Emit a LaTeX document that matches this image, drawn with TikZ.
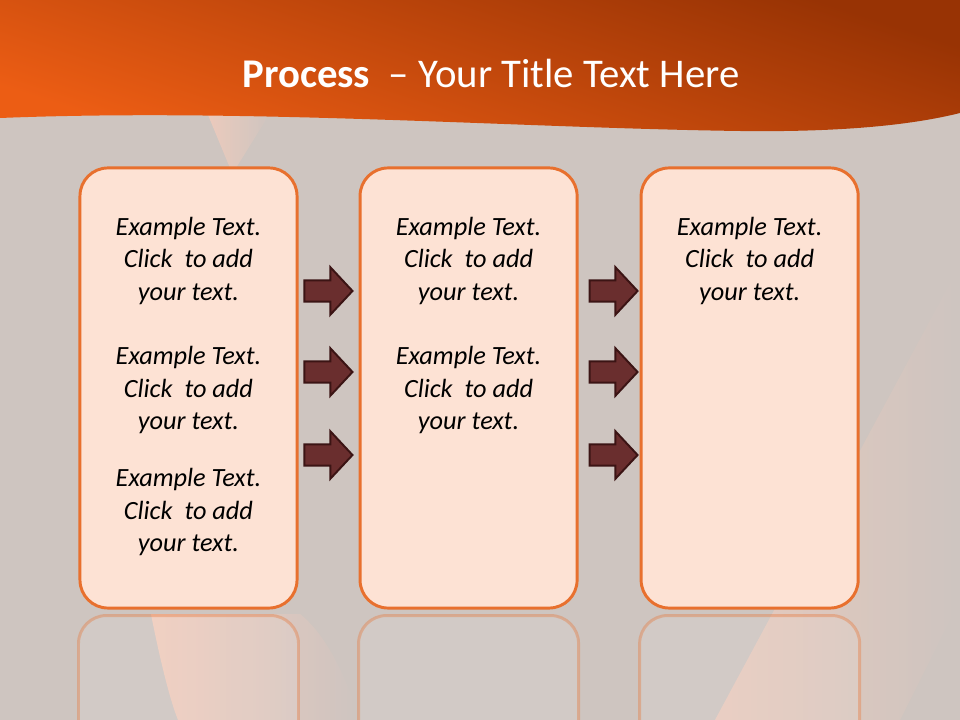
\documentclass[tikz,border=0pt]{standalone}
\usepackage{fontspec}
\setmainfont{Carlito}
\usetikzlibrary{shapes.arrows}

\definecolor{slidegrey}{HTML}{CEC5C0}
\definecolor{headdark}{HTML}{983304}
\definecolor{headlight}{HTML}{EC5D14}
\definecolor{boxfill}{HTML}{FDE2D4}
\definecolor{boxline}{HTML}{E8702E}
\definecolor{arrowfill}{HTML}{6A2E2E}
\definecolor{arrowline}{HTML}{3B1414}
\definecolor{glow}{HTML}{F4CCBC}

\tikzstyle{stepbox} = [rectangle, rounded corners=0.7cm, minimum width=5.425cm,
minimum height=11cm, draw=boxline, line width=2.1pt, fill=boxfill]
\tikzstyle{boxtext} = [align=center, text=black,
font=\fontsize{18.7}{22.8}\selectfont\itshape]
\tikzstyle{goarrow} = [single arrow, draw=arrowline, fill=arrowfill, line width=1.4pt,
inner xsep=0pt, inner ysep=0.24cm, minimum height=1.2cm,
single arrow head extend=0.33cm, single arrow tip angle=94, single arrow head indent=0pt]
\tikzstyle{mirror} = [draw=boxline, draw opacity=0.35, line width=2.1pt,
fill=white, fill opacity=0.1, rounded corners=0.7cm]

\begin{document}
\begin{tikzpicture}[x=0.025cm, y=-0.025cm]
    \useasboundingbox (0,0) rectangle (960,720);
    \clip (0,0) rectangle (960,720);

    % backdrop
    \fill[slidegrey] (0,0) rectangle (960,720);
    \shade[left color=glow, right color=slidegrey, opacity=0.8]
        (206,110) -- (272,110) -- (236,168) -- (230,168) -- cycle;
    \shade[left color=glow, right color=slidegrey, opacity=0.9]
        (151,614) .. controls (160,660) and (170,700) .. (178,720)
        -- (360,720) .. controls (340,660) and (320,630) .. (300,614) -- cycle;
    \shade[left color=glow, right color=slidegrey, opacity=0.7]
        (960,265) -- (715,720) -- (900,720) -- (960,600) -- cycle;

    % title band
    \shade[top color=headdark, bottom color=headlight, shading angle=-18]
        (0,0) -- (960,0) -- (960,113) .. controls (900,128) and (820,132) .. (740,131)
        .. controls (520,128) and (250,108) .. (0,118) -- cycle;
    \node (title) [anchor=base, text=white, font=\fontsize{29}{35}\selectfont] at (491,88)
        {\textbf{Process}\ \ -- Your Title Text Here};

    \node (box1) [stepbox] at (188.5,388) {};
    \node (box2) [stepbox, right of=box1, xshift=6cm] {};
    \node (box3) [stepbox, right of=box2, xshift=6.025cm] {};

    % reflections under the boxes
    \draw[mirror] ([yshift=-4cm]box1.south west) |- ([yshift=-0.15cm]box1.south) -| ([yshift=-4cm]box1.south east);
    \draw[mirror] ([yshift=-4cm]box2.south west) |- ([yshift=-0.15cm]box2.south) -| ([yshift=-4cm]box2.south east);
    \draw[mirror] ([yshift=-4cm]box3.south west) |- ([yshift=-0.15cm]box3.south) -| ([yshift=-4cm]box3.south east);

    \node (txt11) [boxtext, above of=box1, yshift=2.175cm] {Example Text.\\Click\ \ to add\\your text.};
    \node (txt12) [boxtext, at=(box1), yshift=-0.05cm] {Example Text.\\Click\ \ to add\\your text.};
    \node (txt13) [boxtext, below of=box1, yshift=-2.1cm] {Example Text.\\Click\ \ to add\\your text.};
    \node (txt21) [boxtext, above of=box2, yshift=2.175cm] {Example Text.\\Click\ \ to add\\your text.};
    \node (txt22) [boxtext, at=(box2), yshift=-0.05cm] {Example Text.\\Click\ \ to add\\your text.};
    \node (txt31) [boxtext, above of=box3, yshift=2.175cm] {Example Text.\\Click\ \ to add\\your text.};

    \node (arr11) [goarrow, right of=box1, xshift=2.375cm, yshift=2.425cm] {};
    \node (arr12) [goarrow, right of=box1, xshift=2.375cm, yshift=0.4cm] {};
    \node (arr13) [goarrow, right of=box1, xshift=2.375cm, yshift=-1.675cm] {};
    \node (arr21) [goarrow, right of=box2, xshift=2.5cm, yshift=2.425cm] {};
    \node (arr22) [goarrow, right of=box2, xshift=2.5cm, yshift=0.4cm] {};
    \node (arr23) [goarrow, right of=box2, xshift=2.5cm, yshift=-1.675cm] {};
\end{tikzpicture}
\end{document}
